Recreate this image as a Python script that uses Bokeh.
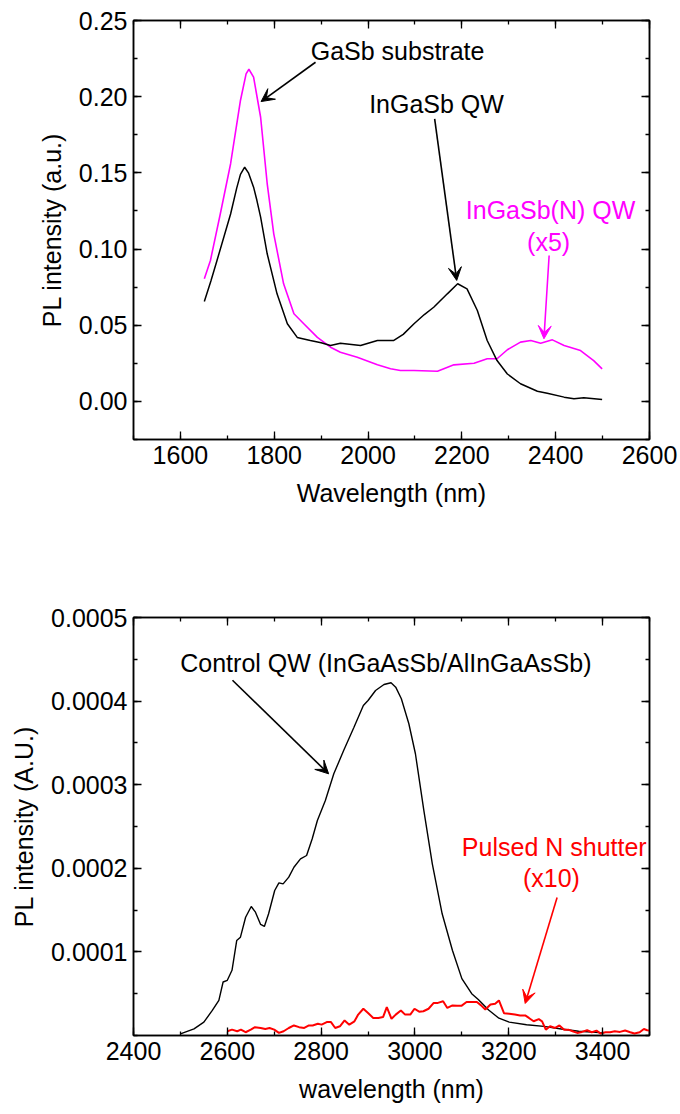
from bokeh.plotting import figure
from bokeh.models import (LinearAxis, FixedTicker, Arrow, VeeHead, Label, Range1d,
                          PrintfTickFormatter, CustomJSTickFormatter)
from bokeh.layouts import column
from bokeh.embed import file_html
from bokeh.resources import INLINE

# ---------------- data: top panel ----------------
top_ingasb_wl = [1651, 1665, 1678, 1707, 1720, 1728, 1737, 1745, 1756, 1763, 1771, 1785, 1806,
                 1828, 1849, 1877, 1900, 1920, 1941, 1984, 2020, 2055, 2075, 2098, 2120,
                 2140, 2169, 2191, 2211, 2233, 2254, 2275, 2297, 2325, 2361, 2382, 2418,
                 2439, 2460, 2499]
top_ingasb_pl = [0.0656, 0.079, 0.0925, 0.123, 0.140, 0.149, 0.1537, 0.150, 0.1406, 0.132,
                 0.121, 0.0969, 0.0706, 0.051, 0.042, 0.040, 0.0385, 0.0367, 0.0382, 0.0367,
                 0.040, 0.040, 0.044, 0.051, 0.057, 0.0618, 0.0706, 0.0772, 0.0739, 0.0597,
                 0.040, 0.0268, 0.018, 0.0116, 0.0067, 0.0054, 0.0028, 0.0017, 0.0024, 0.0013]

top_ingasbn_wl = [1651, 1664, 1685, 1707, 1728, 1740, 1746, 1756, 1771, 1785, 1799, 1820,
                  1842, 1863, 1892, 1920, 1941, 1977, 2020, 2048, 2069, 2098, 2148, 2183,
                  2226, 2254, 2275, 2297, 2325, 2347, 2368, 2393, 2418, 2453, 2481, 2499]
top_ingasbn_pl = [0.0805, 0.0925, 0.123, 0.156, 0.1975, 0.215, 0.218, 0.2128, 0.1865, 0.143,
                  0.110, 0.0772, 0.0575, 0.051, 0.042, 0.0356, 0.0323, 0.029, 0.024, 0.0214,
                  0.0203, 0.0203, 0.0198, 0.024, 0.025, 0.028, 0.028, 0.0339, 0.0389, 0.040,
                  0.0382, 0.0404, 0.0367, 0.0334, 0.0268, 0.0214]

# ---------------- data: bottom panel ----------------
ctrl_wl = [2500, 2529, 2550, 2568, 2582, 2591, 2600, 2610, 2620, 2628, 2639, 2651, 2660,
           2671, 2679, 2688, 2701, 2710, 2719, 2731, 2742, 2756, 2769, 2781, 2792, 2809,
           2827, 2848, 2870, 2890, 2900, 2916, 2934, 2949, 2959, 2971, 2987, 3001, 3019,
           3037, 3058, 3080, 3100, 3121, 3135, 3157, 3179, 3201, 3238, 3275, 3312, 3349,
           3385, 3400]
ctrl_pl = [0.000002, 8e-6, 1.6e-5, 3.0e-5, 4.2e-5, 6.4e-5, 6.6e-5, 7.8e-5, 1.136e-4,
           1.176e-4, 1.415e-4, 1.543e-4, 1.475e-4, 1.328e-4, 1.304e-4, 1.456e-4, 1.734e-4,
           1.826e-4, 1.814e-4, 1.894e-4, 2.013e-4, 2.113e-4, 2.153e-4, 2.353e-4, 2.572e-4,
           2.811e-4, 3.13e-4, 3.409e-4, 3.688e-4, 3.947e-4, 4.007e-4, 4.127e-4, 4.199e-4,
           4.219e-4, 4.167e-4, 4.028e-4, 3.729e-4, 3.37e-4, 2.691e-4, 2.054e-4, 1.456e-4,
           1.017e-4, 6.8e-5, 5.0e-5, 4.3e-5, 3.05e-5, 2.07e-5, 1.6e-5, 1.29e-5, 1.09e-5,
           7.8e-6, 5.1e-6, 3.9e-6, 3.1e-6]

pulsed_wl = [2600, 2610, 2621, 2629, 2639, 2650, 2659, 2671, 2681, 2690, 2700, 2710, 2720,
             2731, 2742, 2753, 2764, 2774, 2782, 2793, 2801, 2812, 2821, 2830, 2840, 2850,
             2860, 2871, 2879, 2890, 2900, 2911, 2922, 2932, 2940, 2950, 2959, 2970, 2979,
             2990, 2999, 3009, 3018, 3029, 3040, 3049, 3060, 3069, 3080, 3090, 3099, 3110,
             3121, 3132, 3141, 3150, 3161, 3171, 3179, 3190, 3201, 3213, 3224, 3235, 3243,
             3253, 3264, 3271, 3279, 3288, 3299, 3308, 3318, 3327, 3336, 3346, 3356, 3367,
             3377, 3387, 3396, 3406, 3416, 3426, 3437, 3448, 3459, 3468, 3479, 3488, 3495,
             3500]
pulsed_pl = [5.1e-6, 7.0e-6, 5.1e-6, 7e-6, 3.9e-6, 7e-6, 1.0e-5, 9e-6, 7.8e-6, 9e-6, 7e-6,
             3.1e-6, 5.1e-6, 9e-6, 1.2e-5, 1.0e-5, 9e-6, 1.2e-5, 1.2e-5, 1.4e-5, 1.3e-5,
             1.6e-5, 1.6e-5, 9e-6, 1.1e-5, 1.8e-5, 1.3e-5, 1.7e-5, 2.5e-5, 3.2e-5, 2.7e-5,
             2.1e-5, 2.1e-5, 2.2e-5, 3.4e-5, 2.0e-5, 2.5e-5, 3.0e-5, 2.5e-5, 2.5e-5, 3.2e-5,
             2.85e-5, 2.9e-5, 3.2e-5, 3.9e-5, 3.9e-5, 4.1e-5, 3.3e-5, 3.6e-5, 3.55e-5,
             3.55e-5, 4.0e-5, 4.0e-5, 4.0e-5, 3.6e-5, 3.1e-5, 3.7e-5, 3.8e-5, 4.2e-5,
             2.65e-5, 2.6e-5, 2.5e-5, 2.4e-5, 2.4e-5, 2.1e-5, 1.7e-5, 1.95e-5, 1.7e-5, 7e-6,
             1.1e-5, 9e-6, 1.2e-5, 7e-6, 7e-6, 5.1e-6, 3.1e-6, 4.3e-6, 6.3e-6, 3.9e-6,
             5.9e-6, 2.3e-6, 3.9e-6, 3.9e-6, 5.1e-6, 4.3e-6, 5.9e-6, 3.9e-6, 2.3e-6, 3.9e-6,
             7.8e-6, 6.3e-6, 5.9e-6]

# tick labels
top_x_ticks = [1600, 1800, 2000, 2200, 2400, 2600]
top_y_ticks = [0.00, 0.05, 0.10, 0.15, 0.20, 0.25]
bot_x_ticks = [2400, 2600, 2800, 3000, 3200, 3400]
bot_y_ticks = [0.0001, 0.0002, 0.0003, 0.0004, 0.0005]

FONT = "Liberation Sans"
FS = "25px"
MAGENTA = "#FF00FF"
RED = "#FF0000"


def style_axes(p, xt, xminor, yt, yminor, xfmt, yfmt, xlabel, ylabel):
    blank = CustomJSTickFormatter(code="return ''")
    for ax in (p.xaxis[0], p.yaxis[0]):
        ax.major_label_text_font = FONT
        ax.major_label_text_font_size = FS
        ax.major_label_text_color = "black"
        ax.axis_label_text_font = FONT
        ax.axis_label_text_font_size = FS
        ax.axis_label_text_font_style = "normal"
        ax.axis_label_text_color = "black"
        ax.major_tick_in = 8
        ax.major_tick_out = 0
        ax.minor_tick_in = 4
        ax.minor_tick_out = 0
        ax.axis_line_width = 1.5
        ax.major_tick_line_width = 1.3
        ax.minor_tick_line_width = 1.3
        ax.major_label_standoff = 6
        ax.axis_label_standoff = 12
    p.xaxis[0].ticker = FixedTicker(ticks=xt, minor_ticks=xminor)
    p.yaxis[0].ticker = FixedTicker(ticks=yt, minor_ticks=yminor)
    p.xaxis[0].formatter = xfmt
    p.yaxis[0].formatter = yfmt
    p.xaxis[0].axis_label = xlabel
    p.yaxis[0].axis_label = ylabel
    p.yaxis[0].axis_label_standoff = 10
    for loc, tk, mn in (("above", xt, xminor), ("right", yt, yminor)):
        ax = LinearAxis(ticker=FixedTicker(ticks=tk, minor_ticks=mn), formatter=blank,
                        major_label_text_font_size="1px", major_tick_in=8, major_tick_out=0,
                        minor_tick_in=4, minor_tick_out=0, axis_line_width=1.5,
                        major_tick_line_width=1.3, minor_tick_line_width=1.3,
                        major_label_standoff=0)
        p.add_layout(ax, loc)
    p.xgrid.visible = False
    p.ygrid.visible = False
    p.outline_line_color = "black"
    p.outline_line_width = 1.5


# ---------------- top figure ----------------
p1 = figure(output_backend="svg", toolbar_location=None, frame_width=516, frame_height=419,
            x_range=Range1d(1500, 2600), y_range=Range1d(-0.025, 0.25),
            min_border_left=133, min_border_right=31, min_border_top=20, min_border_bottom=100,
            background_fill_color="white", border_fill_color="white")
style_axes(p1, top_x_ticks, list(range(1500, 2601, 100)), top_y_ticks,
           [-0.025 + 0.025 * i for i in range(12)],
           PrintfTickFormatter(format="%d"), PrintfTickFormatter(format="%.2f"),
           "Wavelength (nm)", "PL intensity (a.u.)")

p1.line(top_ingasbn_wl, top_ingasbn_pl, line_color=MAGENTA, line_width=1.6)
p1.line(top_ingasb_wl, top_ingasb_pl, line_color="black", line_width=1.5)

top_notes = [
    ("GaSb substrate", 2063, 0.2303, "black"),
    ("InGaSb QW", 2146, 0.1955, "black"),
    ("InGaSb(N) QW", 2389, 0.1253, MAGENTA),
    ("(x5)", 2385, 0.1043, MAGENTA),
]
for txt, x, y, c in top_notes:
    p1.add_layout(Label(x=x, y=y, text=txt, text_align="center", text_baseline="middle",
                        text_font=FONT, text_font_size=FS, text_color=c))
top_arrows = [
    (1888, 0.2226, 1772, 0.1968, "black"),
    (2142, 0.1855, 2189, 0.0794, "black"),
    (2386, 0.0958, 2375, 0.0411, MAGENTA),
]
for xs, ys, xe, ye, c in top_arrows:
    p1.add_layout(Arrow(x_start=xs, y_start=ys, x_end=xe, y_end=ye, line_color=c,
                        line_width=1.6,
                        end=VeeHead(size=13, fill_color=c, line_color=c, line_width=1)))

# ---------------- bottom figure ----------------
p2 = figure(output_backend="svg", toolbar_location=None, frame_width=516, frame_height=418,
            x_range=Range1d(2400, 3500), y_range=Range1d(0, 0.0005),
            min_border_left=133, min_border_right=31, min_border_top=78, min_border_bottom=79,
            background_fill_color="white", border_fill_color="white")
style_axes(p2, bot_x_ticks, list(range(2400, 3501, 100)), bot_y_ticks,
           [0.00005 * i for i in range(11)],
           PrintfTickFormatter(format="%d"), PrintfTickFormatter(format="%.4f"),
           "wavelength (nm)", "PL intensity (A.U.)")

p2.line(ctrl_wl, ctrl_pl, line_color="black", line_width=1.4)
p2.line(pulsed_wl, pulsed_pl, line_color=RED, line_width=2)

bot_notes = [
    ("Control QW (InGaAsSb/AlInGaAsSb)", 2938, 0.000445, "black"),
    ("Pulsed N shutter", 3297, 0.000225, RED),
    ("(x10)", 3291, 0.000188, RED),
]
for txt, x, y, c in bot_notes:
    p2.add_layout(Label(x=x, y=y, text=txt, text_align="center", text_baseline="middle",
                        text_font=FONT, text_font_size=FS, text_color=c))
bot_arrows = [
    (2611, 0.000425, 2816, 0.000313, "black"),
    (3303, 0.000165, 3235, 0.0000383, RED),
]
for xs, ys, xe, ye, c in bot_arrows:
    p2.add_layout(Arrow(x_start=xs, y_start=ys, x_end=xe, y_end=ye, line_color=c,
                        line_width=1.6,
                        end=VeeHead(size=13, fill_color=c, line_color=c, line_width=1)))

layout = column(p1, p2, spacing=0)
open("out.html", "w").write(file_html(layout, INLINE))
